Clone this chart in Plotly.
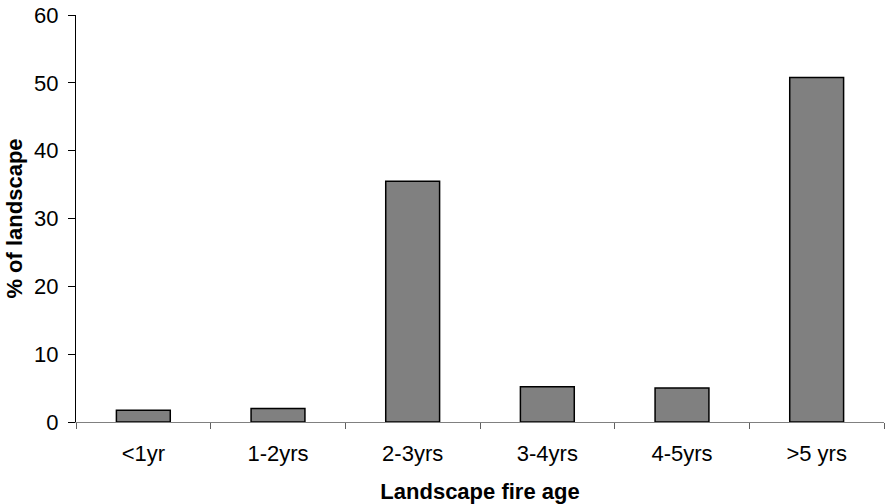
import plotly.graph_objects as go

categories = ["<1yr", "1-2yrs", "2-3yrs", "3-4yrs", "4-5yrs", ">5 yrs"]
values = [1.75, 2.0, 35.5, 5.2, 5.0, 50.8]
y_ticks = [0, 10, 20, 30, 40, 50, 60]

fig = go.Figure(go.Bar(
    x=categories, y=values,
    marker=dict(color="#808080", line=dict(color="#000000", width=1.5)),
))

font = "Liberation Sans, Arial, sans-serif"
fig.update_layout(
    width=888, height=504,
    margin=dict(l=76, r=3.5, t=15, b=82),
    paper_bgcolor="white", plot_bgcolor="white",
    bargap=0.6,
    showlegend=False,
    font=dict(family=font, size=22, color="#000000"),
)
fig.update_xaxes(
    type="category",
    tickson="boundaries", ticks="outside", ticklen=6, tickcolor="#606060", tickwidth=1,
    showline=True, linecolor="#808080", linewidth=1,
    showgrid=False, zeroline=False,
    tickfont=dict(size=22),
    ticklabelstandoff=12,
    title=dict(text="<b>Landscape fire age</b>", font=dict(size=22), standoff=18),
    automargin=False,
)
fig.update_yaxes(
    range=[0, 60], tickvals=y_ticks, ticktext=[str(v) for v in y_ticks],
    ticks="outside", ticklen=7, tickcolor="#000000", tickwidth=1,
    showline=True, linecolor="#000000", linewidth=1,
    showgrid=False, zeroline=False,
    tickfont=dict(size=22),
    ticklabelstandoff=5,
    title=dict(text="<b>% of landscape</b>", font=dict(size=22), standoff=5),
    automargin=False,
)

fig.write_html(
    "out.html",
    config={"displayModeBar": False},
    post_script="document.body.style.margin='0';document.body.style.overflow='hidden';",
)
